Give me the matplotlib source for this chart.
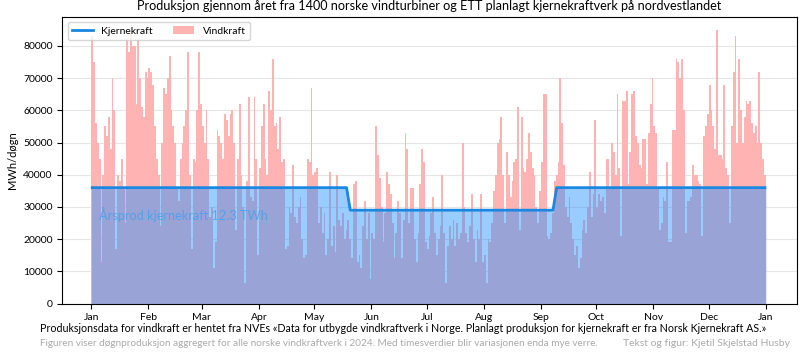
import numpy as np
import matplotlib.pyplot as plt

plt.rcParams['font.family'] = ['Lato', 'DejaVu Sans']

# Daglig vindkraft 2024 (tusen MWh/døgn), lest av figuren, én liste per måned
jan = [83, 75, 56, 50, 45, 13, 40, 55, 52, 58, 48, 70, 60, 17, 40, 38, 45, 36, 25, 82,
       78, 84, 80, 80, 62, 82, 70, 61, 58, 72, 70]
feb = [73, 72, 68, 55, 45, 40, 24, 50, 67, 65, 70, 77, 60, 55, 50, 36, 32, 45, 50, 55,
       60, 78, 40, 17, 45, 44, 60, 78, 62]
mar = [55, 50, 60, 45, 27, 30, 11, 19, 54, 52, 50, 45, 59, 57, 52, 59, 60, 50, 23, 45,
       62, 40, 30, 6.5, 38, 64, 33, 32, 64, 45, 15]
apr = [42, 55, 62, 45, 40, 66, 60, 76, 55, 56, 48, 58, 44, 45, 17, 18, 30, 28, 43, 27,
       25, 30, 33, 20, 14, 15, 45, 44, 67, 40]
mai = [41, 42, 25, 30, 22, 28, 15, 20, 41, 18, 24, 16, 40, 26, 24, 28, 20, 23, 26, 20,
       14, 37, 38, 13, 15, 11, 24, 32, 20, 28, 7.5]
jun = [22, 20, 55, 46, 39, 30, 19, 28, 41, 37, 34, 25, 14, 22, 32, 28, 14, 26, 53, 48,
       25, 36, 36, 20, 13, 22, 37, 48, 44, 19]
jul = [17, 21, 28, 33, 22, 15, 20, 24, 40, 22, 6.5, 18, 24, 20, 26, 18, 25, 20, 22, 50,
       30, 22, 19, 24, 34, 20, 13, 23, 20, 34, 13]
aug = [15, 6.5, 20, 19, 25, 35, 40, 50, 51, 58, 40, 25, 47, 40, 33, 38, 44, 45, 61, 23,
       58, 42, 41, 45, 53, 47, 42, 40, 30, 25, 35]
sep = [44, 65, 65, 21, 20, 22, 28, 38, 40, 44, 70, 56, 43, 30, 27, 33, 25, 20, 15, 18,
       11, 14, 23, 26, 22, 30, 41, 27, 34, 57]
okt = [30, 34, 32, 33, 28, 45, 45, 36, 50, 47, 40, 65, 42, 21, 63, 63, 66, 37, 47, 65,
       66, 52, 50, 43, 42, 51, 51, 37, 53, 62, 70]
nov = [55, 53, 36, 23, 25, 33, 32, 44, 19, 19, 54, 54, 76, 75, 70, 76, 60, 22, 32, 32,
       33, 43, 40, 40, 38, 37, 21, 52, 55, 59]
des = [68, 60, 55, 48, 85, 46, 46, 45, 68, 42, 40, 25, 55, 72, 83, 50, 76, 60, 50, 58,
       63, 62, 63, 56, 53, 55, 50, 72, 50, 45, 40]

# Planlagt kjernekraft (MWh/døgn): redusert drift om sommeren
kjerne_dager = [0, 139, 140, 251, 252, 366]
kjerne_verdi = [36000, 32500, 29000, 32500, 36000]

maaneder = ['Jan', 'Feb', 'Mar', 'Apr', 'May', 'Jun', 'Jul', 'Aug', 'Sep', 'Oct',
            'Nov', 'Dec', 'Jan']
maaned_start = [0, 31, 60, 91, 121, 152, 182, 213, 244, 274, 305, 335, 366]

# %%
vind = np.array(jan + feb + mar + apr + mai + jun + jul + aug + sep + okt + nov + des) * 1000
dager = np.arange(len(vind))
kjerne = np.concatenate([np.full(kjerne_dager[i + 1] - kjerne_dager[i], kjerne_verdi[i])
                         for i in range(len(kjerne_verdi))])

fig, ax = plt.subplots(figsize=(8, 3.53), dpi=100)
fig.subplots_adjust(left=0.078, right=0.996, top=0.952, bottom=0.14)

ax.bar(dager, vind, width=1.0, align='edge', color='#ffb3b3', label='Vindkraft', zorder=2)
ax.fill_between(np.append(dager, len(dager)), np.append(kjerne, kjerne[-1]),
                step='post', color='#1f90ff', alpha=0.45, linewidth=0, zorder=3)
ax.plot(dager + 0.5, kjerne, color='#1a88e0', linewidth=2, label='Kjernekraft', zorder=4)
ax.text(4, 27500, 'Årsprod kjernekraft 12.3 TWh', color='#3aa0f0', alpha=0.75,
        fontsize=9.2, va='center', zorder=5)

ax.set_xlim(-15.7, 382.8)
ax.set_ylim(0, 89000)
ax.set_xticks(maaned_start)
ax.set_xticklabels(maaneder)
ax.set_yticks(range(0, 80001, 10000))
ax.tick_params(labelsize=7.5)
ax.grid(axis='y', color='#e6e6e6', linewidth=0.8, zorder=0)
ax.set_axisbelow(True)
ax.set_ylabel('MWh/døgn', fontsize=8)
ax.set_title('Produksjon gjennom året fra 1400 norske vindturbiner og ETT planlagt '
             'kjernekraftverk på nordvestlandet', fontsize=9.1, pad=5)
ax.legend(loc='upper left', ncol=2, fontsize=7.5, frameon=True)

fig.text(0.05, 0.07, 'Produksjonsdata for vindkraft er hentet fra NVEs «Data for utbygde '
         'vindkraftverk i Norge. Planlagt produksjon for kjernekraft er fra Norsk Kjernekraft AS.»',
         fontsize=7.7, ha='left', va='center')
fig.text(0.05, 0.028, 'Figuren viser døgnproduksjon aggregert for alle norske vindkraftverk '
         'i 2024. Med timesverdier blir variasjonen enda mye verre.',
         fontsize=7.2, color='#aaaaaa', ha='left', va='center')
fig.text(0.988, 0.028, 'Tekst og figur: Kjetil Skjelstad Husby', fontsize=7.5,
         color='#aaaaaa', ha='right', va='center')

plt.savefig('out.png', dpi=100)
